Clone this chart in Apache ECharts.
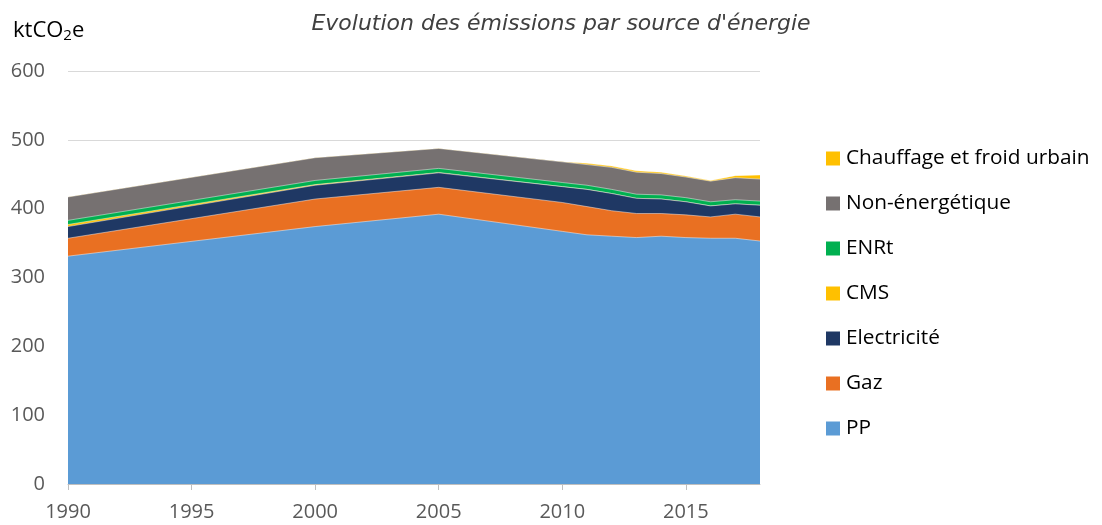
<!DOCTYPE html>
<html>
<head>
<meta charset="utf-8">
<script src="https://cdn.jsdelivr.net/npm/echarts@6/dist/echarts.min.js"></script>
<style>
  html, body { margin: 0; padding: 0; background: #fff; }
  #chart { width: 1102px; height: 525px; }
</style>
</head>
<body>
<div id="chart"></div>
<script>
/* données (ktCO2e) */
var years = [1990, 2000, 2005, 2010, 2011, 2012, 2013, 2014, 2015, 2016, 2017, 2018];
var pp = [331, 374, 392, 367, 362, 360, 358, 360, 358, 357, 357, 353];
var gaz = [26, 40, 39, 42, 41, 37, 35, 33, 33, 31, 35, 35];
var elec = [17, 20, 21, 23, 25, 25, 22, 21, 19, 16, 15, 17];
var cms = [3, 1, 0.5, 0, 0, 0, 0, 0, 0, 0, 0, 0];
var enrt = [6, 6, 6, 6, 6, 6, 6, 6, 6, 6, 6, 6];
var nonEnerg = [34, 33, 29, 30, 30, 32, 32, 31, 30, 30, 32, 32];
var chauffage = [0, 0, 0, 0, 2, 2, 2, 2, 1.5, 1, 3, 6];
var yTicks = [0, 100, 200, 300, 400, 500, 600];

var seriesNames = ['PP', 'Gaz', 'Electricité', 'CMS', 'ENRt', 'Non-énergétique', 'Chauffage et froid urbain'];
var seriesValues = [pp, gaz, elec, cms, enrt, nonEnerg, chauffage];
var seriesColors = ['#5B9BD5', '#E97022', '#1F3864', '#FFC000', '#00B050', '#767171', '#FFC000'];

var fontFam = '"Open Sans", "DejaVu Sans", sans-serif';

/* cumul des couches : chaque aire part de 0, les plus hautes sont dessinées dessous */
var cumul = [];
var running = years.map(function () { return 0; });
for (var i = 0; i < seriesValues.length; i++) {
	running = running.map(function (v, k) { return v + seriesValues[i][k]; });
	cumul.push(running.slice());
}

function pairs(vals){
	var out = [];
	for (var k = 0; k < years.length; k++) {
		out.push([years[k], vals[k]]);
	}
	return out;
}

var series = [];
for (var j = seriesNames.length - 1; j >= 0; j--) {
	series.push({
		name: seriesNames[j],
		type: 'line',
		data: pairs(cumul[j]),
		showSymbol: false,
		symbol: 'none',
		itemStyle: { color: seriesColors[j] },
		lineStyle: { color: 'rgba(255,255,255,0.45)', width: 1 },
		areaStyle: { color: seriesColors[j], opacity: 1, origin: 'start' },
		emphasis: { disabled: true },
		z: 2 + (seriesNames.length - j)
	});
}

var mychart = echarts.init(document.getElementById('chart'));
var option = {
	animation: false,
	backgroundColor: '#fff',
	textStyle: { fontFamily: fontFam },
	title: [{
		text: "Evolution des émissions par source d'énergie",
		left: 556,
		top: 8,
		textAlign: 'center',
		textStyle: {
			fontFamily: '"DejaVu Sans", sans-serif',
			fontStyle: 'italic',
			fontWeight: 'normal',
			fontSize: 22,
			color: '#404040'
		}
	}, {
		text: 'ktCO{sub|2}e',
		left: 8,
		top: 13,
		textStyle: {
			fontFamily: fontFam,
			fontWeight: 'normal',
			fontSize: 22,
			color: '#000',
			rich: {
				sub: { fontSize: 15, color: '#000', fontFamily: fontFam, padding: [10, 0, 0, 0] }
			}
		}
	}],
	grid: {
		left: 68,
		right: 342,
		top: 71,
		bottom: 41,
		containLabel: false
	},
	xAxis: {
		type: 'value',
		min: 1990,
		max: 2018,
		interval: 5,
		splitLine: { show: false },
		axisLine: { lineStyle: { color: '#BFBFBF', width: 1 } },
		axisTick: { show: true, length: 6, lineStyle: { color: '#BFBFBF' } },
		axisLabel: {
			color: '#595959',
			fontSize: 20,
			margin: 18,
			showMaxLabel: false,
			formatter: function (v) { return v % 5 === 0 ? String(v) : ''; }
		}
	},
	yAxis: {
		type: 'value',
		min: yTicks[0],
		max: yTicks[yTicks.length - 1],
		interval: 100,
		axisLine: { show: false },
		axisTick: { show: false },
		splitLine: { lineStyle: { color: '#D9D9D9', width: 1 } },
		axisLabel: { color: '#595959', fontSize: 20, margin: 23 }
	},
	legend: {
		orient: 'vertical',
		left: 821,
		top: 142,
		itemWidth: 14,
		itemHeight: 14,
		itemGap: 22,
		icon: 'rect',
		data: seriesNames.slice().reverse(),
		textStyle: { color: '#000', fontSize: 20.8, fontFamily: fontFam, padding: [0, 0, 0, 1], lineHeight: 23 }
	},
	series: series
};
mychart.setOption(option);
</script>
</body>
</html>
